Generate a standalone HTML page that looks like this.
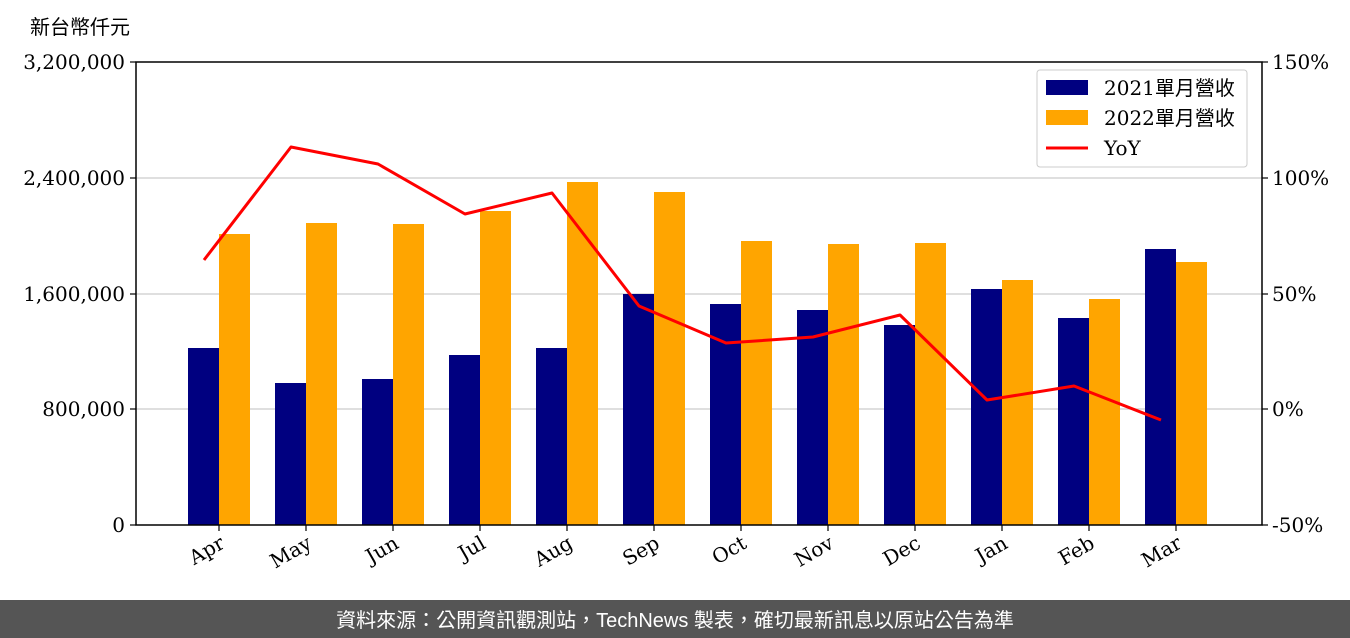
<!DOCTYPE html>
<html><head><meta charset="utf-8"><style>
body{margin:0;background:#fff;}
svg{display:block;}
text{font-family:"DejaVu Serif","Liberation Serif","Noto Serif CJK SC",serif;}
.cjk{font-family:"Liberation Sans","Noto Sans CJK TC",sans-serif;}
</style></head><body>
<svg width="1350" height="638" viewBox="0 0 1350 638" xmlns="http://www.w3.org/2000/svg">
<rect width="1350" height="638" fill="#fff"/>
<text x="30" y="34" font-size="20" class="cjk" fill="#000">新台幣仟元</text>
<g stroke="#cccccc" stroke-width="1.2">
<line x1="136" y1="178" x2="1262" y2="178"/>
<line x1="136" y1="294" x2="1262" y2="294"/>
<line x1="136" y1="409" x2="1262" y2="409"/>
</g>
<g fill="#000080">
<rect x="188" y="348" width="31" height="177"/>
<rect x="275" y="383" width="31" height="142"/>
<rect x="362" y="379" width="31" height="146"/>
<rect x="449" y="355" width="31" height="170"/>
<rect x="536" y="348" width="31" height="177"/>
<rect x="623" y="294" width="31" height="231"/>
<rect x="710" y="304" width="31" height="221"/>
<rect x="797" y="310" width="31" height="215"/>
<rect x="884" y="325" width="31" height="200"/>
<rect x="971" y="289" width="31" height="236"/>
<rect x="1058" y="318" width="31" height="207"/>
<rect x="1145" y="249" width="31" height="276"/>
</g>
<g fill="#FFA500">
<rect x="219" y="234" width="31" height="291"/>
<rect x="306" y="223" width="31" height="302"/>
<rect x="393" y="224" width="31" height="301"/>
<rect x="480" y="211" width="31" height="314"/>
<rect x="567" y="182" width="31" height="343"/>
<rect x="654" y="192" width="31" height="333"/>
<rect x="741" y="241" width="31" height="284"/>
<rect x="828" y="244" width="31" height="281"/>
<rect x="915" y="243" width="31" height="282"/>
<rect x="1002" y="280" width="31" height="245"/>
<rect x="1089" y="299" width="31" height="226"/>
<rect x="1176" y="262" width="31" height="263"/>
</g>
<polyline fill="none" stroke="#ff0000" stroke-width="3" stroke-linejoin="round" points="204,260 291,147 378,164 465,214 552,193 639,306 726,343 813,337 900,315 987,400 1074,386 1161,420"/>
<rect x="136" y="62" width="1126" height="463" fill="none" stroke="#000" stroke-width="1.5"/>
<g stroke="#000" stroke-width="1.2">
<line x1="130" y1="62" x2="136" y2="62"/><line x1="130" y1="178" x2="136" y2="178"/>
<line x1="130" y1="294" x2="136" y2="294"/><line x1="130" y1="409" x2="136" y2="409"/>
<line x1="130" y1="525" x2="136" y2="525"/>
<line x1="1262" y1="62" x2="1268" y2="62"/><line x1="1262" y1="178" x2="1268" y2="178"/>
<line x1="1262" y1="294" x2="1268" y2="294"/><line x1="1262" y1="409" x2="1268" y2="409"/>
<line x1="1262" y1="525" x2="1268" y2="525"/>
<line x1="219" y1="525" x2="219" y2="531"/><line x1="306" y1="525" x2="306" y2="531"/>
<line x1="393" y1="525" x2="393" y2="531"/><line x1="480" y1="525" x2="480" y2="531"/>
<line x1="567" y1="525" x2="567" y2="531"/><line x1="654" y1="525" x2="654" y2="531"/>
<line x1="741" y1="525" x2="741" y2="531"/><line x1="828" y1="525" x2="828" y2="531"/>
<line x1="915" y1="525" x2="915" y2="531"/><line x1="1002" y1="525" x2="1002" y2="531"/>
<line x1="1089" y1="525" x2="1089" y2="531"/><line x1="1176" y1="525" x2="1176" y2="531"/>
</g>
<g font-size="20" text-anchor="end" fill="#000">
<text x="125" y="69">3,200,000</text><text x="125" y="185">2,400,000</text>
<text x="125" y="301">1,600,000</text><text x="125" y="416">800,000</text>
<text x="125" y="532">0</text>
</g>
<g font-size="20" fill="#000">
<text x="1272" y="69">150%</text><text x="1272" y="185">100%</text>
<text x="1272" y="301">50%</text><text x="1272" y="416">0%</text>
<text x="1272" y="532">-50%</text>
</g>
<g font-size="20" text-anchor="end" fill="#000">
<text transform="translate(226,547) rotate(-30)">Apr</text>
<text transform="translate(313,547) rotate(-30)">May</text>
<text transform="translate(400,547) rotate(-30)">Jun</text>
<text transform="translate(487,547) rotate(-30)">Jul</text>
<text transform="translate(574,547) rotate(-30)">Aug</text>
<text transform="translate(661,547) rotate(-30)">Sep</text>
<text transform="translate(748,547) rotate(-30)">Oct</text>
<text transform="translate(835,547) rotate(-30)">Nov</text>
<text transform="translate(922,547) rotate(-30)">Dec</text>
<text transform="translate(1009,547) rotate(-30)">Jan</text>
<text transform="translate(1096,547) rotate(-30)">Feb</text>
<text transform="translate(1183,547) rotate(-30)">Mar</text>
</g>
<rect x="1037" y="70" width="210" height="97" rx="3" fill="#fff" fill-opacity="0.85" stroke="#ccc"/>
<rect x="1046" y="80" width="42" height="15" fill="#000080"/>
<rect x="1046" y="110" width="42" height="15" fill="#FFA500"/>
<line x1="1046" y1="148" x2="1088" y2="148" stroke="#ff0000" stroke-width="3"/>
<g font-size="20" fill="#000">
<text x="1104" y="95">2021<tspan class="cjk">單月營收</tspan></text>
<text x="1104" y="125">2022<tspan class="cjk">單月營收</tspan></text>
<text x="1104" y="155">YoY</text>
</g>
<rect x="0" y="600" width="1350" height="38" fill="#555555"/>
<text x="675" y="627" font-size="20" text-anchor="middle" fill="#fff" class="cjk">資料來源：公開資訊觀測站，TechNews 製表，確切最新訊息以原站公告為準</text>
</svg>
</body></html>
